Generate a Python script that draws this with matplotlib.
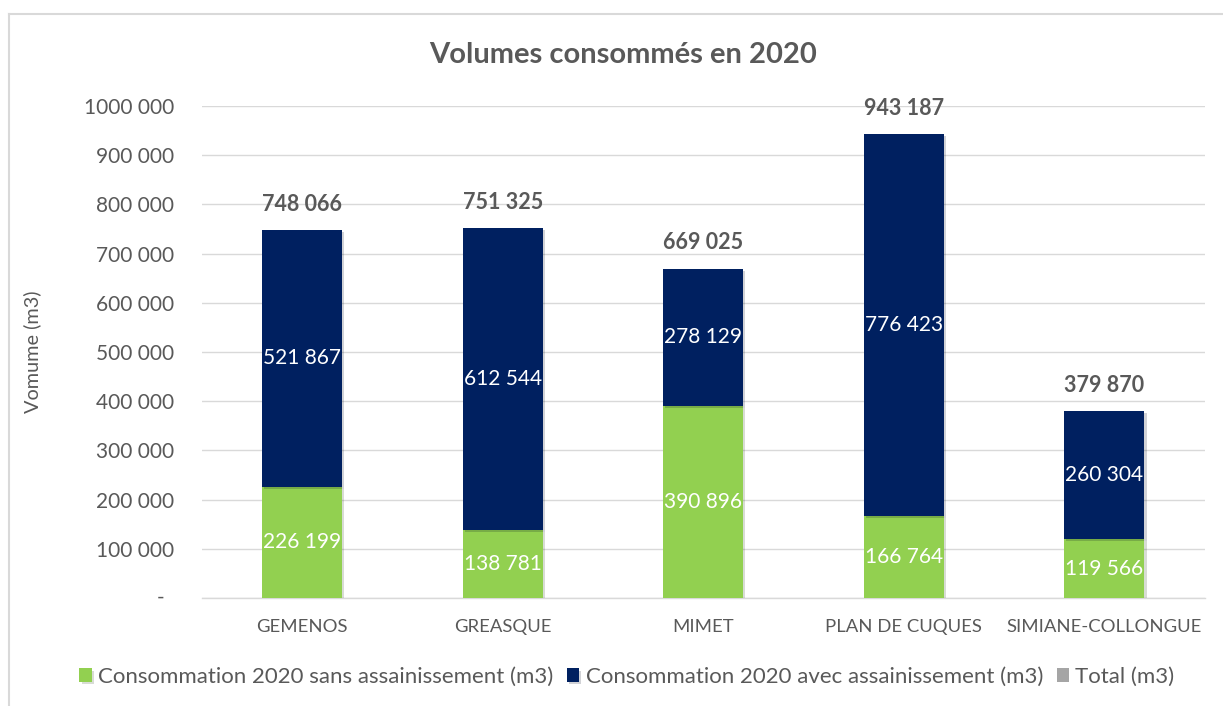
import matplotlib.pyplot as plt
import matplotlib.patheffects as pe
import numpy as np

communes = ["GEMENOS", "GREASQUE", "MIMET", "PLAN DE CUQUES", "SIMIANE-COLLONGUE"]
sans_assain = [226199, 138781, 390896, 166764, 119566]
avec_assain = [521867, 612544, 278129, 776423, 260304]
totals = [748066, 751325, 669025, 943187, 379870]

y_ticks = [0, 100000, 200000, 300000, 400000, 500000, 600000, 700000, 800000, 900000, 1000000]
y_tick_labels = ["", "100 000", "200 000", "300 000", "400 000", "500 000",
                 "600 000", "700 000", "800 000", "900 000", "1000 000"]

def fmt(v):
    return f"{v:,}".replace(",", " ")

plt.rcParams['font.family'] = ['Lato', 'DejaVu Sans']
txt = '#595959'
green = '#92D050'
navy = '#002060'
W, H = 1223, 706

fig = plt.figure(figsize=(12.23, 7.06), dpi=100)
ax = fig.add_axes([0.165, 0.153, 0.820, 0.697])

shadow = [pe.SimplePatchShadow(offset=(1.5, -1.5), alpha=0.18), pe.Normal()]
x = np.arange(len(communes))
w = 0.40
b1 = ax.bar(x, sans_assain, w, color=green, label="Consommation 2020 sans assainissement (m3)", zorder=3)
b2 = ax.bar(x, avec_assain, w, bottom=sans_assain, color=navy,
            label="Consommation 2020 avec assainissement (m3)", zorder=3)
b3 = ax.bar(x, [0] * len(totals), w, bottom=totals, color='#A5A5A5', label="Total (m3)", zorder=3)
for bars in (b1, b2):
    for p in bars:
        p.set_path_effects(shadow)

ax.bar_label(b1, labels=[fmt(v) for v in sans_assain], label_type='center', color='white', fontsize=15)
ax.bar_label(b2, labels=[fmt(v) for v in avec_assain], label_type='center', color='white', fontsize=15)
for xi, t in zip(x, totals):
    ax.annotate(fmt(t), (xi, t), xytext=(0, 11), textcoords='offset points',
                ha='center', va='bottom', fontsize=15.5, fontweight='bold', color=txt)

ax.set_xlim(-0.5, len(communes) - 0.5)
ax.set_ylim(0, 1000000)
ax.set_yticks(y_ticks)
ax.set_yticklabels(y_tick_labels, fontsize=15, color=txt)
ax.set_xticks(x)
ax.set_xticklabels(communes, fontsize=13.3, color=txt)
ax.tick_params(axis='x', length=0, pad=15)
ax.tick_params(axis='y', length=0, pad=20)
ax.grid(axis='y', color='#D9D9D9', linewidth=1, zorder=0)
for s in ['top', 'right', 'left']:
    ax.spines[s].set_visible(False)
ax.spines['bottom'].set_color('#D9D9D9')
ax.spines['bottom'].set_linewidth(1)

# zero label shown as a dash, like the accounting format
ax.annotate("-", (0, 0), xycoords=('axes fraction', 'data'), xytext=(-30, 0),
            textcoords='offset points', ha='center', va='center', fontsize=15, color=txt)

fig.text(32 / W, 1 - 352 / H, "Vomume (m3)", rotation=90, ha='center', va='center',
         fontsize=14.3, color=txt)

fig.text(623 / W, 1 - 55 / H, "Volumes consommés en 2020", ha='center', va='center',
         fontsize=21, fontweight='bold', color=txt)

fig.legend(loc='center', bbox_to_anchor=(627 / W, 1 - 677 / H), ncol=3, frameon=False,
           fontsize=16, handlelength=0.55, handleheight=0.55, handletextpad=0.3, columnspacing=0.6,
           labelcolor=txt)

fig.add_artist(plt.Line2D([9 / W, 9 / W], [0, 1 - 14 / H], color='#D9D9D9', linewidth=1.5))
fig.add_artist(plt.Line2D([9 / W, 1], [1 - 14 / H, 1 - 14 / H], color='#D9D9D9', linewidth=1.5))

fig.savefig("out.png", dpi=100)
